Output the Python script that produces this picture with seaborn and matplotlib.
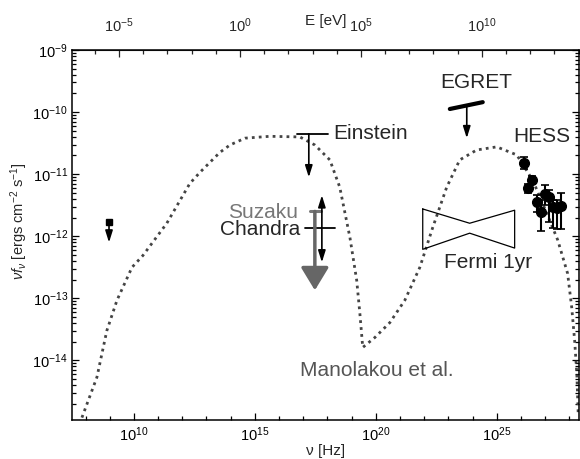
import numpy as np
import pandas as pd
import matplotlib
matplotlib.use("Agg")
import matplotlib.pyplot as plt
import matplotlib.ticker as mticker
import seaborn as sns

# model curve (Manolakou et al.), log10 nu [Hz] / log10 nuF_nu
model_lognu = [7.85, 8.47, 8.88, 9.30, 9.92, 10.37, 11.36, 12.31, 12.73, 13.55, 13.97,
               14.59, 15.62, 16.86, 17.48, 18.10, 18.51, 18.93, 19.21, 19.34, 19.46,
               19.96, 20.58, 21.20, 21.82, 22.36, 22.93, 23.47, 24.17, 25.00, 25.83,
               26.49, 27.07, 27.52, 27.93, 28.10, 28.22, 28.31, 28.37]
model_logF = [-14.92, -14.27, -13.52, -13.03, -12.50, -12.31, -11.79, -11.15, -10.97, -10.65, -10.53,
              -10.42, -10.39, -10.40, -10.53, -10.77, -11.21, -12.02, -12.71, -13.24, -13.79,
              -13.63, -13.39, -13.03, -12.50, -11.85, -11.21, -10.77, -10.61, -10.56, -10.69,
              -11.10, -11.63, -12.06, -12.60, -13.15, -13.68, -14.21, -14.89]

# HESS points
hess_lognu = [26.12, 26.45, 26.28, 26.65, 26.82, 26.98, 27.15, 27.31, 27.48, 27.64]
hess_logF = [-10.82, -11.10, -11.23, -11.45, -11.61, -11.32, -11.37, -11.53, -11.55, -11.52]
hess_logF_hi = [-10.73, -11.03, -11.15, -11.34, -11.42, -11.18, -11.26, -11.42, -11.42, -11.31]
hess_logF_lo = [-10.92, -11.16, -11.31, -11.61, -11.92, -11.50, -11.77, -11.87, -11.89, -11.89]

# Fermi 1yr bow tie
fermi_lognu = [21.94, 23.88, 25.74, 25.74, 23.88, 21.94, 21.94]
fermi_logF = [-11.56, -11.79, -11.58, -12.19, -11.95, -12.21, -11.56]

# upper limits: (bar lognu min, max, logF, arrow lognu, arrow end logF)
einstein = [16.74, 18.02, -10.35, 17.23, -11.05]
egret_lognu = [23.06, 24.42]
egret_logF = [-9.95, -9.84]
egret_arrow = [23.76, -9.92, -10.42]
suzaku = [17.27, 17.73, -11.60, 17.48, -12.87]
chandra = [17.07, 18.31, -11.87, 17.77, -11.34, -12.42]
radio = [8.97, -11.77, -12.10]

H_EV = 4.135667e-15

sns.set_style("ticks")
plt.rcParams["font.family"] = ["Liberation Sans", "DejaVu Sans"]
plt.rcParams["mathtext.fontset"] = "custom"
plt.rcParams["mathtext.rm"] = "Liberation Sans"
plt.rcParams["mathtext.it"] = "Liberation Sans:italic"
plt.rcParams["mathtext.bf"] = "Liberation Sans:bold"

fig = plt.figure(figsize=(5.8, 4.59), dpi=100)
ax = fig.add_axes([72 / 580, 39 / 459, 507 / 580, 370 / 459])

p = lambda v: 10.0 ** np.asarray(v)

model = pd.DataFrame({"nu": p(model_lognu), "F": p(model_logF)})
sns.lineplot(data=model, x="nu", y="F", ax=ax, sort=False, estimator=None,
             color="#444444", lw=2.0, linestyle=(0, (1, 1.5)))

# HESS
hF = p(hess_logF)
yerr = [hF - p(hess_logF_lo), p(hess_logF_hi) - hF]
ax.errorbar(p(hess_lognu), hF, yerr=yerr, fmt="o", color="black", ms=7,
            capsize=3, elinewidth=1.5, capthick=1.2, zorder=4)

# Fermi
ax.plot(p(fermi_lognu), p(fermi_logF), color="black", lw=0.9)

small = dict(arrowstyle="-|>,head_length=0.7,head_width=0.22", color="black",
             lw=1.2, shrinkA=0, shrinkB=0, mutation_scale=10)

# Einstein
ax.plot(p(einstein[:2]), p([einstein[2]] * 2), color="black", lw=1.3)
ax.annotate("", xy=(p(einstein[3]), p(einstein[4])), xytext=(p(einstein[3]), p(einstein[2])),
            arrowprops=small)

# EGRET
ax.plot(p(egret_lognu), p(egret_logF), color="black", lw=3)
ax.annotate("", xy=(p(egret_arrow[0]), p(egret_arrow[2])),
            xytext=(p(egret_arrow[0]), p(egret_arrow[1])), arrowprops=small)

# Suzaku
ax.plot(p(suzaku[:2]), p([suzaku[2]] * 2), color="#777777", lw=2.2)
ax.annotate("", xy=(p(suzaku[3]), p(suzaku[4])), xytext=(p(suzaku[3]), p(suzaku[2])),
            arrowprops=dict(arrowstyle="-|>,head_length=1.4,head_width=0.85",
                            color="#666666", lw=2.5, shrinkA=0, shrinkB=0, mutation_scale=10))

# Chandra
ax.plot(p(chandra[:2]), p([chandra[2]] * 2), color="black", lw=1.3)
ax.annotate("", xy=(p(chandra[3]), p(chandra[5])), xytext=(p(chandra[3]), p(chandra[4])),
            arrowprops=dict(arrowstyle="<|-|>,head_length=0.7,head_width=0.22", color="black",
                            lw=1.2, shrinkA=0, shrinkB=0, mutation_scale=10))

# radio limit
ax.plot(p(radio[0]), p(radio[1]), "s", color="black", ms=5)
ax.annotate("", xy=(p(radio[0]), p(radio[2])), xytext=(p(radio[0]), p(radio[1])),
            arrowprops=small)

fs = 15
ax.text(p(18.22), p(-10.34), "Einstein", fontsize=fs, va="center", ha="left")
ax.text(p(16.78), p(-11.61), "Suzaku", fontsize=fs, va="center", ha="right", color="#777777")
ax.text(p(16.86), p(-11.89), "Chandra", fontsize=fs, va="center", ha="right")
ax.text(p(24.17), p(-9.52), "EGRET", fontsize=fs, va="center", ha="center")
ax.text(p(26.86), p(-10.40), "HESS", fontsize=fs, va="center", ha="center")
ax.text(p(24.63), p(-12.42), "Fermi 1yr", fontsize=fs, va="center", ha="center")
ax.text(p(16.86), p(-14.16), "Manolakou et al.", fontsize=fs, va="center", ha="left",
        color="#555555")

ax.set_xscale("log")
ax.set_yscale("log")
ax.set_xlim(p(7.44), p(28.40))
ax.set_ylim(1.1e-15, 1e-9)

fmt = mticker.FuncFormatter(lambda v, pos: r"$10^{%d}$" % round(np.log10(v)))

ax.xaxis.set_major_locator(mticker.FixedLocator(p([10, 15, 20, 25])))
ax.xaxis.set_minor_locator(mticker.FixedLocator(p(np.arange(7, 29))))
ax.xaxis.set_major_formatter(fmt)
ax.xaxis.set_minor_formatter(mticker.NullFormatter())
ax.yaxis.set_major_locator(mticker.FixedLocator(p(np.arange(-14, -8))))
ax.yaxis.set_minor_locator(mticker.LogLocator(base=10, subs=np.arange(2, 10), numticks=20))
ax.yaxis.set_major_formatter(fmt)
ax.yaxis.set_minor_formatter(mticker.NullFormatter())

ax.tick_params(axis="both", which="both", direction="in", top=False, right=True,
               labelsize=10.5, colors="black", width=0.9)
ax.tick_params(axis="both", which="major", length=5)
ax.tick_params(axis="both", which="minor", length=3)
ax.tick_params(axis="x", which="major", pad=4)
ax.tick_params(axis="y", which="major", pad=3)

for s in ax.spines.values():
    s.set_linewidth(1.1)
    s.set_color("black")

ax.set_xlabel("ν [Hz]", fontsize=11)
ax.xaxis.set_label_coords(0.5, -0.066)
ax.set_ylabel(r"$\nu f_{\nu}$ [ergs cm$^{-2}$ s$^{-1}$]", fontsize=10.5)
ax.yaxis.set_label_coords(-0.082, 0.538)

top = ax.secondary_xaxis("top", functions=(lambda nu: nu * H_EV, lambda e: e / H_EV))
top.xaxis.set_major_locator(mticker.FixedLocator([1e-5, 1, 1e5, 1e10]))
top.xaxis.set_minor_locator(mticker.FixedLocator(p(np.arange(-7, 17))))
top.xaxis.set_major_formatter(fmt)
top.xaxis.set_minor_formatter(mticker.NullFormatter())
top.tick_params(axis="x", which="both", direction="in", labelsize=10.5, width=0.9)
top.tick_params(axis="x", which="major", length=5, pad=11)
top.tick_params(axis="x", which="minor", length=3)
ax.text(0.5, 1.078, "E [eV]", transform=ax.transAxes, fontsize=11, ha="center", va="center")

fig.savefig("out.png", dpi=100)
